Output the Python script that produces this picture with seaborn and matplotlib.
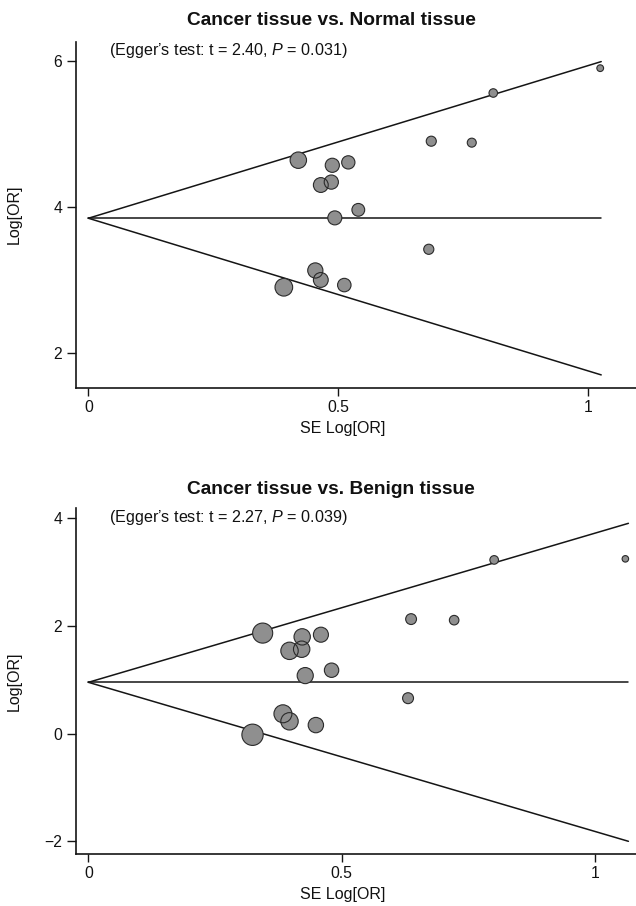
import numpy as np
import pandas as pd
import matplotlib
matplotlib.use("Agg")
import matplotlib.pyplot as plt
import seaborn as sns

# Cancer tissue vs. Normal tissue
normal_se = [0.420, 0.488, 0.520, 0.465, 0.486, 0.686, 0.767, 0.810, 1.024,
             0.540, 0.493, 0.681, 0.454, 0.465, 0.391, 0.512]
normal_logor = [4.64, 4.57, 4.61, 4.30, 4.34, 4.90, 4.88, 5.56, 5.90,
                3.96, 3.85, 3.42, 3.13, 3.00, 2.90, 2.93]
normal_pooled = 3.845
normal_se_max = 1.026
normal_upper = 5.99
normal_lower = 1.70
normal_yticks = [2, 4, 6]
normal_title = "Cancer tissue vs. Normal tissue"
normal_egger = "(Egger\u2019s test: t = 2.40, $\\mathit{P}$ = 0.031)"

# Cancer tissue vs. Benign tissue
benign_se = [0.344, 0.422, 0.459, 0.397, 0.421, 0.637, 0.722, 0.801, 1.060,
             0.480, 0.428, 0.631, 0.384, 0.397, 0.449, 0.324]
benign_logor = [1.87, 1.80, 1.84, 1.54, 1.57, 2.13, 2.11, 3.23, 3.25,
                1.18, 1.08, 0.66, 0.37, 0.23, 0.16, -0.02]
benign_pooled = 0.955
benign_se_max = 1.066
benign_upper = 3.91
benign_lower = -2.00
benign_yticks = [-2, 0, 2, 4]
benign_title = "Cancer tissue vs. Benign tissue"
benign_egger = "(Egger\u2019s test: t = 2.27, $\\mathit{P}$ = 0.039)"

xticks = [0, 0.5, 1]
xtick_labels = ["0", "0.5", "1"]

sns.set_style("ticks")
plt.rcParams['font.family'] = ['Liberation Sans', 'DejaVu Sans']
plt.rcParams['mathtext.fontset'] = 'custom'
plt.rcParams['mathtext.rm'] = 'Liberation Sans'
plt.rcParams['mathtext.it'] = 'Liberation Sans:italic'
for key in ('text.color', 'axes.labelcolor', 'xtick.labelcolor', 'ytick.labelcolor'):
    plt.rcParams[key] = '#111111'

FACE = '#8f8f8f'
EDGE = '#2a2a2a'
LINE = '#151515'


def funnel(ax, se, logor, pooled, se_max, upper, lower, yticks, xlim, ylim):
    '''
    Draws the funnel lines and the study circles (area ~ 1/SE^2).
    '''
    df = pd.DataFrame({'se': se, 'logor': logor})
    df['w'] = 1 / df['se'] ** 2
    wmax = df['w'].max()

    lines = pd.DataFrame({'se': [0, se_max, 0, se_max, 0, se_max],
                          'y': [pooled, upper, pooled, pooled, pooled, lower],
                          'g': ['u', 'u', 'c', 'c', 'l', 'l']})
    for _, part in lines.groupby('g'):
        ax.plot(part['se'], part['y'], color=LINE, lw=1.1, zorder=2)

    # faces first, then all outlines on top (overlaps show both rims)
    for layer in ('face', 'edge'):
        sns.scatterplot(data=df, x='se', y='logor', size='w',
                        sizes=(0, 24.7 * wmax), size_norm=(0, wmax),
                        legend=False, color=FACE, edgecolor=EDGE,
                        linewidth=0.8, zorder=3, ax=ax)
        coll = ax.collections[-1]
        if layer == 'face':
            coll.set_edgecolor('none')
        else:
            coll.set_facecolor('none')
            coll.set_edgecolor(EDGE)

    ax.set_xlim(*xlim)
    ax.set_ylim(*ylim)
    ax.set_xticks(xticks)
    ax.set_xticklabels(xtick_labels)
    ax.set_yticks(yticks)
    ax.set_yticklabels([str(t).replace('-', '\u2212') for t in yticks])
    sns.despine(ax=ax)
    for side in ('left', 'bottom'):
        ax.spines[side].set_linewidth(1.2)
        ax.spines[side].set_color(LINE)
    ax.tick_params(axis='x', length=5.5, width=1.0, labelsize=11.3, color=LINE)
    ax.tick_params(axis='y', length=6.5, width=1.0, labelsize=11.3, color=LINE)
    ax.set_xlabel("SE Log[OR]", fontsize=11.5)
    ax.set_ylabel("Log[OR]", fontsize=11.5)
    ax.xaxis.set_label_coords(0.477, -0.096)
    ax.yaxis.set_label_coords(-0.0964, 0.5)


fig = plt.figure(figsize=(6.36, 9.06), dpi=100)
ax1 = fig.add_axes([0.1195, 0.5721, 0.8805, 0.382])
ax2 = fig.add_axes([0.1195, 0.0574, 0.8805, 0.3816])

funnel(ax1, normal_se, normal_logor, normal_pooled, normal_se_max,
       normal_upper, normal_lower, normal_yticks,
       (-0.0248, 1.0956), (1.525, 6.264))
funnel(ax2, benign_se, benign_logor, benign_pooled, benign_se_max,
       benign_upper, benign_lower, benign_yticks,
       (-0.0245, 1.081), (-2.236, 4.19))

fig.text(331 / 636, 1 - 20.7 / 906, normal_title, ha='center', va='center',
         fontsize=13.8, fontweight='bold')
fig.text(109.3 / 636, 1 - 50 / 906, normal_egger, ha='left', va='center',
         fontsize=11.6)
fig.text(331 / 636, 1 - 489 / 906, benign_title, ha='center', va='center',
         fontsize=13.8, fontweight='bold')
fig.text(109.3 / 636, 1 - 517.3 / 906, benign_egger, ha='left', va='center',
         fontsize=11.6)

fig.savefig("out.png", dpi=100)
